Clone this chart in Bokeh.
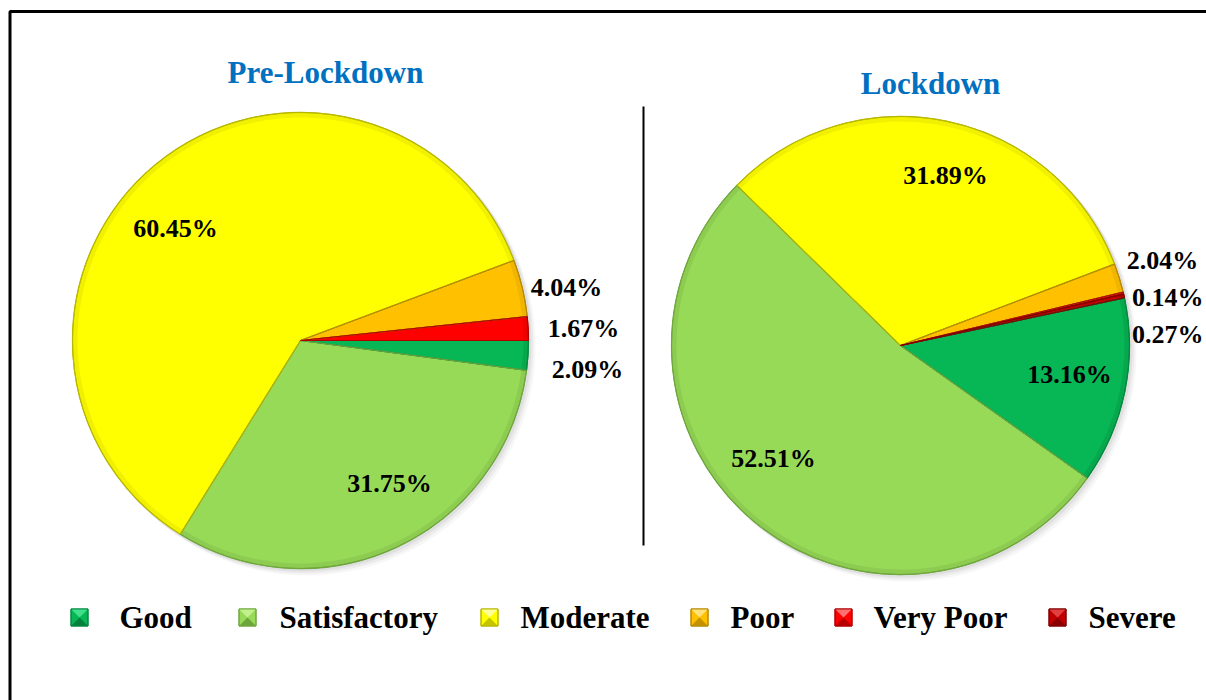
import numpy as np
from bokeh.plotting import figure
from bokeh.models import Range1d
from bokeh.core.properties import value
from bokeh.embed import file_html
from bokeh.resources import INLINE

# ---------------- data ----------------
categories = ["Good", "Satisfactory", "Moderate", "Poor", "Very Poor", "Severe"]
pre_lockdown = [2.09, 31.75, 60.45, 4.04, 1.67, 0.0]
lockdown = [13.16, 52.51, 31.89, 2.04, 0.14, 0.27]
titles = ["Pre-Lockdown", "Lockdown"]

# ---------------- styles ----------------
colors = ["#07B655", "#97DA58", "#FFFF00", "#FFC000", "#FF0000", "#C00000"]
edge_colors = ["#058A40", "#6FA83E", "#B8B800", "#B88A00", "#B00000", "#800000"]
light_colors = ["#3FE08A", "#C2F08C", "#FFFF9A", "#FFE27A", "#FF7070", "#E04040"]
dark_colors = ["#04803C", "#6EA53A", "#C4C400", "#C49200", "#B80000", "#8A0000"]
FONT = value("Liberation Serif")

W, H = 1206, 700


def Y(sy):
    return H - sy


p = figure(width=W, height=H, x_range=Range1d(0, W), y_range=Range1d(0, H),
           output_backend="svg", toolbar_location=None, x_axis_type=None, y_axis_type=None,
           min_border=0, min_border_left=0, min_border_right=0, min_border_top=0,
           min_border_bottom=0)
p.grid.visible = False
p.outline_line_color = None
p.background_fill_color = "white"

# frame and separator
p.line([9.5, 9.5, 1206], [Y(710), Y(11), Y(11)], line_color="black", line_width=3)
p.line([643, 643], [Y(106), Y(545)], line_color="black", line_width=2)

# ---------------- layout ----------------
# label anchors: (x, y, align)
pies = [
    dict(values=pre_lockdown, cx=300, cy=340, r=228, start=0.0, title_x=325, title_y=72,
         labels={"Good": (587, 369, "center"), "Satisfactory": (389, 483, "center"),
                 "Moderate": (175, 228, "center"), "Poor": (566, 287, "center"),
                 "Very Poor": (583, 328, "center")}),
    dict(values=lockdown, cx=900, cy=345, r=229, start=12.0, title_x=930, title_y=83,
         labels={"Good": (1069, 374, "center"), "Satisfactory": (773, 458, "center"),
                 "Moderate": (945, 175, "center"), "Poor": (1162, 260, "center"),
                 "Very Poor": (1203, 297, "right"), "Severe": (1203, 334, "right")}),
]

for k, pie in enumerate(pies):
    vals = np.array(pie["values"], dtype=float)
    total = vals.sum()
    cum = np.cumsum(vals)
    start0 = np.deg2rad(pie["start"])
    starts = start0 - (cum - vals) / total * 2 * np.pi
    ends = start0 - cum / total * 2 * np.pi
    keep = vals > 0
    cx, cy, r = pie["cx"], Y(pie["cy"]), pie["r"]

    # soft shadow
    for off, a in [(6, 0.05), (4, 0.07), (2, 0.09)]:
        p.circle(x=[cx + off], y=[cy - off], radius=r + 1, fill_color="#666666",
                 fill_alpha=a, line_color=None)

    idx = np.where(keep)[0]
    xs = [cx] * len(idx)
    ys = [cy] * len(idx)
    p.wedge(x=xs, y=ys, radius=r, start_angle=list(starts[idx]), end_angle=list(ends[idx]),
            direction="clock", fill_color=[colors[i] for i in idx],
            line_color=[edge_colors[i] for i in idx], line_width=1.2)
    # bevel: soft darker rim band
    p.annular_wedge(x=xs, y=ys, inner_radius=r - 5, outer_radius=r,
                    start_angle=list(starts[idx]), end_angle=list(ends[idx]),
                    direction="clock", fill_color=[dark_colors[i] for i in idx],
                    fill_alpha=0.25, line_color=None)
    p.wedge(x=xs, y=ys, radius=r, start_angle=list(starts[idx]), end_angle=list(ends[idx]),
            direction="clock", fill_color=None,
            line_color=[edge_colors[i] for i in idx], line_width=1.0)

    # labels
    for i in idx:
        sx, sy, al = pie["labels"][categories[i]]
        p.text(x=[sx], y=[Y(sy)], text=[f"{vals[i]:.2f}%"], text_font=FONT,
               text_font_style="bold", text_font_size="26px", text_align=al,
               text_baseline="middle", text_color="black")

    # title
    p.text(x=[pie["title_x"]], y=[Y(pie["title_y"])], text=[titles[k]], text_font=FONT,
           text_font_style="bold", text_font_size="31px", text_align="center",
           text_baseline="middle", text_color="#0070C0")

# ---------------- legend ----------------
legend_marker_x = [79, 247, 489, 699, 843, 1057]
legend_text_x = [119, 279, 520, 730, 873, 1088]
legend_y = 617
ms = 8.5
lyc = Y(legend_y)
for i, cat in enumerate(categories):
    mx = legend_marker_x[i]
    p.patch([mx - ms, mx + ms, mx + ms, mx - ms], [lyc + ms, lyc + ms, lyc - ms, lyc - ms],
            fill_color=colors[i], line_color=edge_colors[i], line_width=1)
    # pyramid-like bevel facets
    p.patch([mx - ms, mx + ms, mx], [lyc + ms, lyc + ms, lyc],
            fill_color=light_colors[i], line_color=None)
    p.patch([mx - ms, mx + ms, mx], [lyc - ms, lyc - ms, lyc],
            fill_color=dark_colors[i], line_color=None)
    p.patch([mx - ms, mx + ms, mx + ms, mx - ms], [lyc + ms, lyc + ms, lyc - ms, lyc - ms],
            fill_color=None, line_color=edge_colors[i], line_width=1)

p.text(x=legend_text_x, y=[Y(legend_y)] * len(categories), text=categories,
       text_font=FONT, text_font_style="bold", text_font_size="31px", text_align="left",
       text_baseline="middle", text_color="black")

open("out.html", "w").write(file_html(p, INLINE))
